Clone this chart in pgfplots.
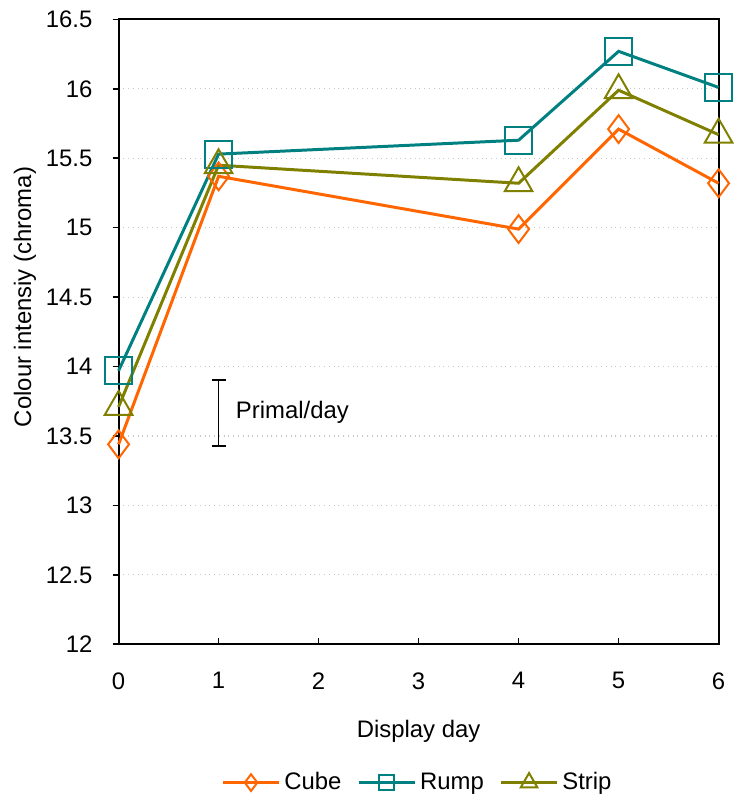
\documentclass[border=0pt]{standalone}
\usepackage{pgfplots}
\pgfplotsset{compat=1.18}
\usepackage{fontspec}
\setmainfont{Liberation Sans}
\definecolor{cubec}{RGB}{255,102,0}
\definecolor{rumpc}{RGB}{0,128,128}
\definecolor{stripc}{RGB}{128,128,0}
\begin{document}
\fontsize{12}{14}\selectfont
\begin{tikzpicture}
\begin{axis}[
  scale only axis,
  width=301.5pt, height=314pt,
  xmin=0, xmax=6, ymin=12, ymax=16.5,
  xtick={0,1,2,3,4,5,6},
  xticklabels={0,1,2,3,4,5,6},
  ytick={12,12.5,13,13.5,14,14.5,15,15.5,16,16.5},
  yticklabels={12,12.5,13,13.5,14,14.5,15,15.5,16,16.5},
  xtick pos=bottom, ytick pos=left,
  xtick align=inside, ytick align=outside,
  major tick length=3pt,
  tick style={black, line width=0.8pt},
  axis line style={black, line width=1pt},
  ymajorgrids,
  grid style={gray!45, dotted, line width=0.6pt},
  /pgf/number format/assume math mode=true,
  tick label style={font=\fontsize{12}{14}\selectfont},
  xticklabel style={yshift=-10pt},
  yticklabel style={xshift=-6pt},
  xlabel={Display day},
  ylabel={Colour intensiy (chroma)},
  label style={font=\fontsize{12}{14}\selectfont},
  xlabel style={at={(axis description cs:0.5,0)}, anchor=center, yshift=-43.5pt},
  ylabel style={at={(axis description cs:0,0.5)}, anchor=center, xshift=17.5pt, yshift=47pt},
  legend columns=3,
  legend style={at={(axis description cs:0.5,0)}, anchor=center, yshift=-69.5pt, draw=none, font=\fontsize{12}{14}\selectfont, /tikz/every even column/.append style={column sep=6pt}},
  legend cell align=left,
  clip=false,
]
\addplot[cubec, line width=1.5pt, mark=diamond, mark size=7pt, mark options={line width=1pt, fill=none},
  legend image code/.code={\draw[mark repeat=2, mark phase=2, mark size=4.2pt] plot coordinates {(0pt,0pt) (14pt,0pt) (28pt,0pt)};}]
  coordinates {(0,13.44) (1,15.37) (4,14.99) (5,15.71) (6,15.32)};
\addlegendentry{Cube}
\addplot[rumpc, line width=1.5pt, mark=square, mark size=6.75pt, mark options={line width=1pt, fill=none},
  legend image code/.code={\draw[mark repeat=2, mark phase=2, mark size=3.7pt] plot coordinates {(0pt,0pt) (14pt,0pt) (28pt,0pt)};}]
  coordinates {(0,13.97) (1,15.53) (4,15.63) (5,16.27) (6,16.01)};
\addlegendentry{Rump}
\addplot[stripc, line width=1.5pt, mark=triangle, mark size=8pt, mark options={line width=1pt, fill=none},
  legend image code/.code={\draw[mark repeat=2, mark phase=2, mark size=4.8pt] plot coordinates {(0pt,0pt) (14pt,0pt) (28pt,0pt)};}]
  coordinates {(0,13.71) (1,15.45) (4,15.32) (5,15.99) (6,15.67)};
\addlegendentry{Strip}
\addplot[black, line width=1pt, mark=none, forget plot,
  error bars/.cd, y dir=both, y explicit, error mark=-, error mark options={black, line width=1pt, mark size=3.5pt, rotate=90}]
  coordinates {(1,13.665) +- (0,0.235)};
\node[anchor=west, inner sep=0pt] at (axis cs:1.17,13.67) {Primal/day};
\end{axis}
\path (current bounding box.north west) ++(-3pt,1.5pt) coordinate (extra);
\path (extra) -- (current bounding box.south east);
\end{tikzpicture}
\end{document}
